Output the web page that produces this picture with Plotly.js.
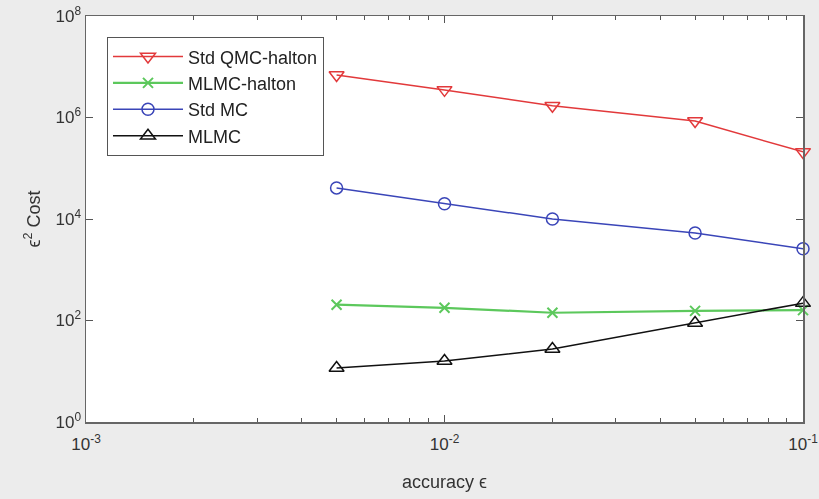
<!DOCTYPE html>
<html><head><meta charset="utf-8">
<script src="https://cdn.plot.ly/plotly-3.0.1.min.js"></script>
<style>body{margin:0;background:#ececec}#c{width:819px;height:499px}</style>
</head><body><div id="c"></div>
<script>
const accuracy = [0.005, 0.01, 0.02, 0.05, 0.1];
const stdQmcHalton = [6.9e6, 3.5e6, 1.7e6, 8.5e5, 2.1e5];
const mlmcHalton = [205, 178, 142, 155, 160];
const stdMc = [4.1e4, 2.0e4, 1.0e4, 5.3e3, 2.6e3];
const mlmc = [11.6, 15.9, 27.5, 89, 220];
const xTickVals = [0.001, 0.01, 0.1];
const xTickText = ['10<sup>-3</sup>', '10<sup>-2</sup>', '10<sup>-1</sup>'];
const yTickVals = [1, 1e2, 1e4, 1e6, 1e8];
const yTickText = ['10<sup>0</sup>', '10<sup>2</sup>', '10<sup>4</sup>', '10<sup>6</sup>', '10<sup>8</sup>'];

const traces = [
  {name:'Std QMC-halton', legendgroup:'a', x:accuracy, y:stdQmcHalton, mode:'lines+markers', cliponaxis:false,
   line:{color:'#e2393b', width:1.5}, marker:{symbol:'triangle-down-open', size:13, color:'#e2393b', line:{width:1.5}}},
  {name:'MLMC-halton', legendgroup:'b', x:accuracy, y:mlmcHalton, mode:'lines+markers', cliponaxis:false,
   line:{color:'#5cc85c', width:2.2}, marker:{symbol:'x-thin-open', size:10, color:'#5cc85c', line:{width:2, color:'#5cc85c'}}},
  {name:'Std MC', legendgroup:'c', x:accuracy, y:stdMc, mode:'lines+markers', cliponaxis:false,
   line:{color:'#3a45b8', width:1.5}, marker:{symbol:'circle-open', size:12, color:'#3a45b8', line:{width:1.5}}},
  {name:'MLMC', legendgroup:'d', x:accuracy, y:mlmc, mode:'lines+markers', cliponaxis:false,
   line:{color:'#111111', width:1.5}, marker:{symbol:'triangle-up-open', size:13, color:'#111111', line:{width:1.5}}},
  // invisible helper trace so the overlaid minor-tick axis is drawn
  {x:accuracy, y:mlmc, xaxis:'x2', mode:'markers', opacity:0, showlegend:false, hoverinfo:'skip'}
];

const fam = 'Liberation Sans, Arial, sans-serif';
const axisFont = {family:fam, size:17, color:'#333'};
const xRange = [-3, -0.99999];
const layout = {
  width:819, height:499,
  paper_bgcolor:'#ececec', plot_bgcolor:'#ffffff',
  margin:{l:86, r:16, t:16, b:77},
  showlegend:true,
  legend:{x:0.029, y:0.948, xanchor:'left', yanchor:'top', bgcolor:'#ffffff',
    bordercolor:'#555', borderwidth:1.2, font:{family:fam, size:18, color:'#222'},
    tracegroupgap:0, itemwidth:70},
  xaxis:{type:'log', range:xRange, tickvals:xTickVals, ticktext:xTickText,
    ticks:'inside', ticklen:7, tickcolor:'#555', showgrid:false, zeroline:false,
    showline:true, linecolor:'#666', linewidth:1.5, mirror:'ticks',
    tickfont:axisFont, ticklabelstandoff:6,
    title:{text:'accuracy ϵ', font:{family:fam, size:18, color:'#333'}, standoff:22}},
  xaxis2:{type:'log', range:xRange, overlaying:'x', anchor:'y', side:'bottom',
    tickmode:'linear', tick0:0, dtick:'D1', showticklabels:false,
    ticks:'inside', ticklen:4, tickcolor:'#555', showgrid:false, zeroline:false,
    showline:false, mirror:'ticks'},
  yaxis:{type:'log', range:[0,8], tickvals:yTickVals, ticktext:yTickText,
    ticks:'inside', ticklen:7, tickcolor:'#555', showgrid:false, zeroline:false,
    showline:true, linecolor:'#666', linewidth:1.5, mirror:'ticks',
    tickfont:axisFont,
    title:{text:'ϵ<sup>2</sup> Cost', font:{family:fam, size:18, color:'#333'}, standoff:10}}
};
Plotly.newPlot('c', traces, layout, {displayModeBar:false, staticPlot:true});
</script></body></html>
